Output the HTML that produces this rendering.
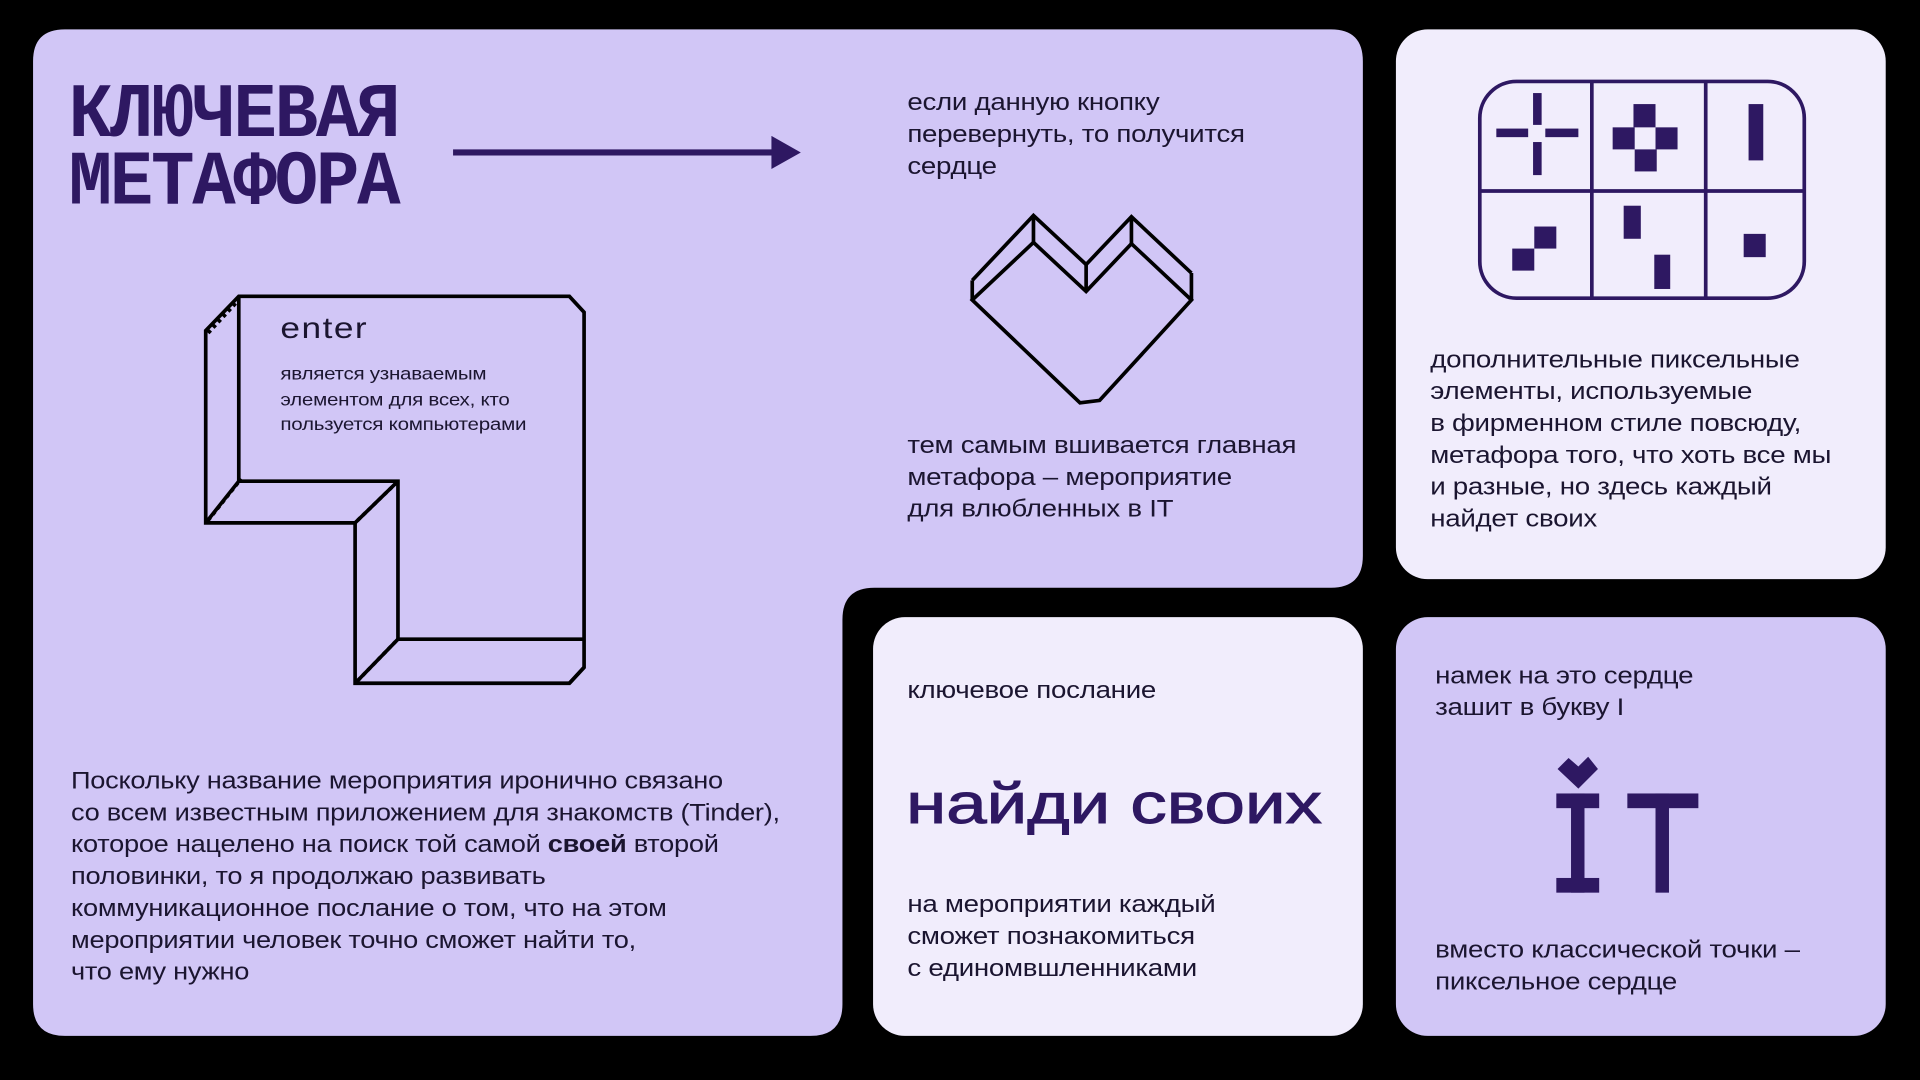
<!DOCTYPE html>
<html><head><meta charset="utf-8"><style>
html,body{margin:0;padding:0;background:#000;width:1920px;height:1080px;overflow:hidden}
#s{position:absolute;left:0;top:0;width:1568px;height:882px;transform:scale(1.22449);transform-origin:0 0;font-family:"Liberation Sans","DejaVu Sans",sans-serif;color:#1b1530}
.p{position:absolute}
.t{position:absolute;font-size:19.5px;line-height:26px;white-space:nowrap;letter-spacing:-0.2px;transform:scaleX(1.16);transform-origin:0 0}
</style></head><body><div id="s">
<svg class="p" style="left:0;top:0" width="1568" height="882">
<path d="M53,24 H1087 Q1113,24 1113,50 V454 Q1113,480 1087,480 H714 Q688,480 688,506 V820 Q688,846 662,846 H53 Q27,846 27,820 V50 Q27,24 53,24 Z" fill="#d1c6f6"/>
<rect x="1140" y="24" width="400" height="449" rx="26" fill="#f1edfc"/>
<rect x="713" y="504" width="400" height="342" rx="26" fill="#f1edfc"/>
<rect x="1140" y="504" width="400" height="342" rx="26" fill="#d1c6f6"/>
<rect x="370" y="122" width="264" height="5" fill="#2e1862"/>
<polygon points="630,111 654,124.5 630,138" fill="#2e1862"/>
<g fill="none" stroke="#000" stroke-width="3" stroke-linejoin="miter">
<polyline points="794,229 844,176 887,216 924,177 973,223"/>
<polygon points="794,245 844,198 887,238 924,199 973,245 898,327 882,329"/>
<path d="M794,229V245M844,176V198M887,216V238M924,177V199M973,223V245"/>
</g>
<g fill="none" stroke="#000" stroke-width="3">
<path d="M195,242 H465 L477,255 V545 L465,558 H290 V427 H168 V270 L195,242 Z"/>
<path d="M195,242 V393 H325 V522 H477"/>
<path d="M168,427 L195,393 M290,427 L325,393 M290,558 L325,522 M465,558 L477,545"/>
</g>
<g stroke="#000" stroke-width="3" stroke-dasharray="3 3"><path d="M170,425 L197,391 M292,425 L323,395 M292,556 L323,524 M170,272 L195,245"/></g>
<g fill="none" stroke="#2e1862" stroke-width="3">
<rect x="1208.5" y="66.5" width="265" height="177" rx="30"/>
<path d="M1300,66V244M1393,66V244M1208,156H1474"/>
</g>
<g fill="#2e1862">
<rect x="1252" y="76" width="7" height="26"/><rect x="1252" y="116" width="7" height="27"/>
<rect x="1222" y="105" width="26" height="7"/><rect x="1262" y="105" width="27" height="7"/>
<rect x="1334" y="85" width="18" height="19"/><rect x="1317" y="104" width="18" height="18"/><rect x="1352" y="104" width="18" height="18"/><rect x="1335" y="122" width="18" height="18"/>
<rect x="1428" y="85" width="12" height="46"/>
<rect x="1253" y="185" width="18" height="18"/><rect x="1235" y="203" width="18" height="18"/>
<rect x="1326" y="168" width="14" height="27"/><rect x="1351" y="208" width="13" height="28"/>
<rect x="1424" y="191" width="18" height="19"/>
<rect x="1271" y="648" width="35" height="12"/><rect x="1283" y="648" width="11" height="81"/><rect x="1271" y="717" width="35" height="12"/>
<rect x="1329" y="648" width="58" height="12"/><rect x="1352" y="648" width="11" height="81"/>
<polygon points="1272,628 1281,619 1289,626 1297,618 1305,628 1289,644"/>
</g>
</svg>
<div class="p" style="left:56px;top:67px;font-family:'Liberation Mono','DejaVu Sans Mono',monospace;font-weight:bold;font-size:63px;line-height:55px;color:#2e1862;transform:scaleX(0.94);transform-origin:0 0;letter-spacing:-2px">КЛЮЧЕВАЯ<br>МЕТАФОРА</div>
<div class="t" style="left:741px;top:71px">если данную кнопку<br>перевернуть, то получится<br>сердце</div>
<div class="t" style="left:741px;top:351px">тем самым вшивается главная<br>метафора – мероприятие<br>для влюбленных в IT</div>
<div class="p" style="left:229px;top:255px;font-size:24px;letter-spacing:1px;transform:scaleX(1.2);transform-origin:0 0">enter</div>
<div class="t" style="left:229px;top:296px;font-size:14.5px;line-height:20.5px">является узнаваемым<br>элементом для всех, кто<br>пользуется компьютерами</div>
<div class="t" style="left:58px;top:625px;transform:scaleX(1.14)">Поскольку название мероприятия иронично связано<br>со всем известным приложением для знакомств (Tinder),<br>которое нацелено на поиск той самой <b>своей</b> второй<br>половинки, то я продолжаю развивать<br>коммуникационное послание о том, что на этом<br>мероприятии человек точно сможет найти то,<br>что ему нужно</div>
<div class="t" style="left:1168px;top:281px">дополнительные пиксельные<br>элементы, используемые<br>в фирменном стиле повсюду,<br>метафора того, что хоть все мы<br>и разные, но здесь каждый<br>найдет своих</div>
<div class="t" style="left:741px;top:551px">ключевое послание</div>
<div class="p" style="left:740px;top:628px;font-size:46px;line-height:56px;color:#2e1862;letter-spacing:0px;white-space:nowrap;transform:scaleX(1.29);transform-origin:0 0;-webkit-text-stroke:0.8px #2e1862">найди своих</div>
<div class="t" style="left:741px;top:726px">на мероприятии каждый<br>сможет познакомиться<br>с единомвшленниками</div>
<div class="t" style="left:1172px;top:539px">намек на это сердце<br>зашит в букву I</div>
<div class="t" style="left:1172px;top:763px">вместо классической точки –<br>пиксельное сердце</div>
</div></body></html>
